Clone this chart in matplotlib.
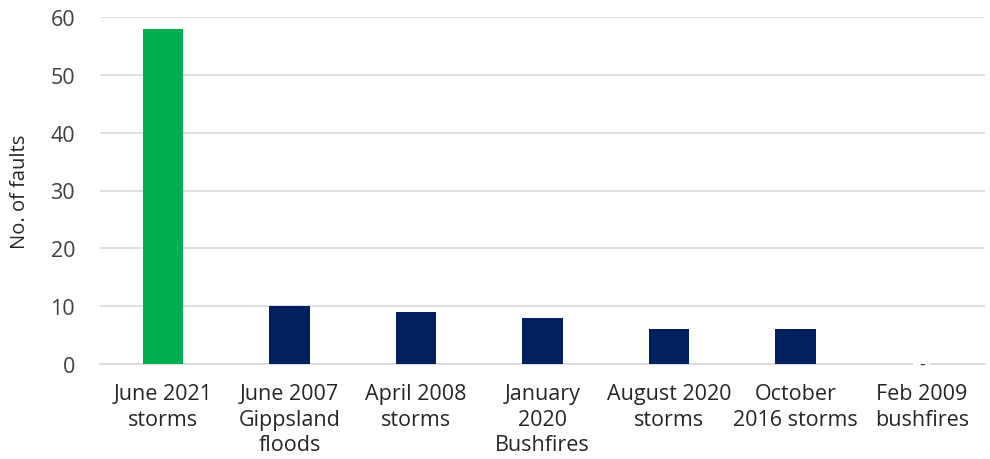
import numpy as np
import matplotlib.pyplot as plt

events = ["June 2021\nstorms", "June 2007\nGippsland\nfloods", "April 2008\nstorms",
          "January\n2020\nBushfires", "August 2020\nstorms", "October\n2016 storms",
          "Feb 2009\nbushfires"]
faults = [58, 10, 9, 8, 6, 6, 0]
colors = ["#00B050", "#002060", "#002060", "#002060", "#002060", "#002060", "#002060"]

plt.rcParams['font.family'] = ['Open Sans', 'DejaVu Sans']
fig = plt.figure(figsize=(9.9, 4.6), dpi=100)
ax = fig.add_axes([100/990, 1-365/460, 885/990, 347/460])

x = np.arange(len(events))
ax.bar(x, faults, width=0.32, color=colors, zorder=3)

# zero-valued event shown with a dash label
for xi, v in zip(x, faults):
    if v == 0:
        ax.text(xi, v, "-", ha="center", va="center", fontsize=13, color="#404040",
                bbox=dict(facecolor="white", edgecolor="none", pad=4), zorder=4)

ax.set_xlim(-0.5, len(events) - 0.5)
ax.set_ylim(0, 60)
ax.set_yticks(range(0, 61, 10))
ax.set_xticks(x)
ax.set_xticklabels(events, fontsize=15.5, color="#262626", linespacing=1.28)
ax.tick_params(axis="y", labelsize=15.5, labelcolor="#404040", length=0, pad=18)
ax.tick_params(axis="x", length=0, pad=14)
ax.grid(axis="y", color="#D9D9D9", linewidth=1.2, zorder=0)
for s in ["top", "right", "left"]:
    ax.spines[s].set_visible(False)
ax.spines["bottom"].set_color("#D9D9D9")
ax.spines["bottom"].set_linewidth(1.2)
ax.set_ylabel("No. of faults", fontsize=14.5, color="#262626", labelpad=15)

plt.savefig("out.png", dpi=100)
